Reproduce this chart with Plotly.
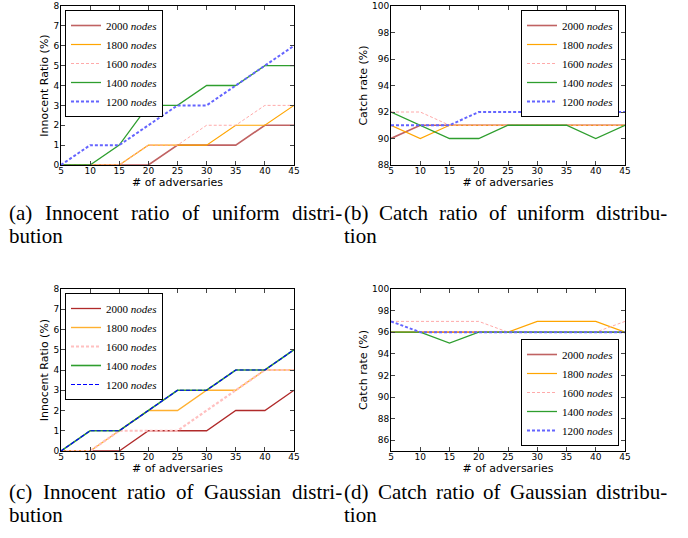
import plotly.graph_objects as go

x_adv = [5, 10, 15, 20, 25, 30, 35, 40, 45]
node_labels = ["2000", "1800", "1600", "1400", "1200"]

# (a) innocent ratio, uniform
inn_uni = {
    "2000": [0, 0, 0, 0, 1, 1, 1, 2, 2],
    "1800": [0, 0, 0, 1, 1, 1, 2, 2, 3],
    "1600": [0, 0, 0, 1, 1, 2, 2, 3, 3],
    "1400": [0, 0, 1, 3, 3, 4, 4, 5, 5],
    "1200": [0, 1, 1, 2, 3, 3, 4, 5, 6],
}
# (b) catch rate, uniform
catch_uni = {
    "2000": [90, 91, 91, 91, 91, 91, 91, 91, 91],
    "1800": [91, 90, 91, 91, 91, 91, 91, 91, 91],
    "1600": [92, 92, 91, 91, 91, 91, 91, 91, 91],
    "1400": [92, 91, 90, 90, 91, 91, 91, 90, 91],
    "1200": [91, 91, 91, 92, 92, 92, 92, 92, 92],
}
# (c) innocent ratio, Gaussian
inn_gau = {
    "2000": [0, 0, 0, 1, 1, 1, 2, 2, 3],
    "1800": [0, 0, 1, 2, 2, 3, 3, 4, 4],
    "1600": [0, 0, 1, 1, 1, 2, 3, 4, 4],
    "1400": [0, 1, 1, 2, 3, 3, 4, 4, 5],
    "1200": [0, 1, 1, 2, 3, 3, 4, 4, 5],
}
# (d) catch rate, Gaussian
catch_gau = {
    "2000": [96, 96, 96, 96, 96, 96, 96, 96, 96],
    "1800": [96, 96, 96, 96, 96, 97, 97, 97, 96],
    "1600": [97, 97, 97, 97, 96, 96, 96, 96, 97],
    "1400": [96, 96, 95, 96, 96, 96, 96, 96, 96],
    "1200": [97, 96, 96, 96, 96, 96, 96, 96, 96],
}

captions = [
    ("(a) Innocent ratio of uniform distri-", "bution"),
    ("(b) Catch ratio of uniform distribu-", "tion"),
    ("(c) Innocent ratio of Gaussian distri-", "bution"),
    ("(d) Catch ratio of Gaussian distribu-", "tion"),
]

style_light = {
    "2000": dict(color="#c06262", width=1.6, dash="solid"),
    "1800": dict(color="#ffa500", width=1.2, dash="solid"),
    "1600": dict(color="#ffaaaa", width=1.0, dash="3px,2px"),
    "1400": dict(color="#2e9e2e", width=1.3, dash="solid"),
    "1200": dict(color="#6464ff", width=2.0, dash="3px,2px"),
}
style_dark = {
    "2000": dict(color="#b02a2a", width=1.3, dash="solid"),
    "1800": dict(color="#ffb030", width=1.4, dash="solid"),
    "1600": dict(color="#ffc0c0", width=2.2, dash="3px,2px"),
    "1400": dict(color="#2e9e2e", width=1.6, dash="solid"),
    "1200": dict(color="#0000ff", width=1.2, dash="4px,2px"),
}

W, H = 688, 538
def px_x(v):
    return v / W
def px_y(v):
    return 1 - v / H

fig = go.Figure()

panels = [
    (inn_uni, style_light, "x", "y", "legend"),
    (catch_uni, style_light, "x2", "y2", "legend2"),
    (inn_gau, style_dark, "x3", "y3", "legend3"),
    (catch_gau, style_light, "x4", "y4", "legend4"),
]
for data, sty, xa, ya, lg in panels:
    for n in node_labels:
        fig.add_trace(go.Scatter(
            x=x_adv, y=data[n], mode="lines",
            name=n + " <i>nodes</i>",
            line=sty[n], xaxis=xa, yaxis=ya, legend=lg, showlegend=True,
        ))

tick_font = dict(family="DejaVu Sans", size=9, color="black")
title_font = dict(family="DejaVu Sans", size=11, color="black")

def xaxis_cfg(dom):
    return dict(domain=dom, range=[5, 45], tickvals=x_adv, ticks="inside", ticklen=4,
                showline=True, mirror="ticks", linecolor="black", linewidth=1,
                showgrid=False, zeroline=False, tickfont=tick_font, automargin=False,
                ticklabeloverflow="allow", ticklabelstandoff=-3,
                title=dict(text="# of adversaries", font=title_font, standoff=0))

def yaxis_cfg(dom, rng, vals, anchor, title):
    return dict(domain=dom, range=rng, tickvals=vals, ticks="inside", ticklen=4,
                showline=True, mirror="ticks", linecolor="black", linewidth=1,
                showgrid=False, zeroline=False, tickfont=tick_font, anchor=anchor,
                automargin=False, ticklabeloverflow="allow", ticklabelstandoff=-1,
                title=dict(text=title, font=title_font, standoff=2))

xl = [px_x(61), px_x(294)]
xr = [px_x(391), px_x(625)]
yt = [px_y(165), px_y(6)]
yb = [px_y(451), px_y(289)]

leg_common = dict(bordercolor="black", borderwidth=1, bgcolor="white",
                  font=dict(family="Liberation Serif", size=11, color="black"),
                  itemwidth=30, tracegroupgap=0)

fig.update_layout(
    width=W, height=H, margin=dict(l=0, r=0, t=0, b=0, autoexpand=False),
    paper_bgcolor="white", plot_bgcolor="white",
    xaxis=dict(xaxis_cfg(xl), anchor="y"),
    yaxis=yaxis_cfg(yt, [0, 8], list(range(0, 9)), "x", "Innocent Ratio (%)"),
    xaxis2=dict(xaxis_cfg(xr), anchor="y2"),
    yaxis2=yaxis_cfg(yt, [88, 100], list(range(88, 101, 2)), "x2", "Catch rate (%)"),
    xaxis3=dict(xaxis_cfg(xl), anchor="y3"),
    yaxis3=yaxis_cfg(yb, [0, 8], list(range(0, 9)), "x3", "Innocent Ratio (%)"),
    xaxis4=dict(xaxis_cfg(xr), anchor="y4"),
    yaxis4=yaxis_cfg(yb, [85, 100], list(range(86, 101, 2)), "x4", "Catch rate (%)"),
    legend=dict(leg_common, x=px_x(65), y=px_y(10), xanchor="left", yanchor="top"),
    legend2=dict(leg_common, x=px_x(619), y=px_y(10), xanchor="right", yanchor="top"),
    legend3=dict(leg_common, x=px_x(65), y=px_y(293), xanchor="left", yanchor="top"),
    legend4=dict(leg_common, x=px_x(619), y=px_y(446), xanchor="right", yanchor="bottom"),
    showlegend=True,
)

# Times metrics (per 1000 em) for justified caption layout
TIMES = {"(": 333, ")": 333, "a": 444, "b": 500, "c": 444, "d": 500, "e": 444,
         "f": 333, "i": 278, "m": 778, "n": 500, "o": 500, "r": 333, "s": 389,
         "t": 278, "u": 500, "I": 333, "C": 667, "G": 722, "h": 500, "-": 333}
CAP_SIZE = 21

def word_w(w):
    return sum(TIMES.get(ch, 500) for ch in w) / 1000 * CAP_SIZE

cap_font = dict(family="Liberation Serif", size=CAP_SIZE, color="black")
cap_pos = [(8, 341, 213), (343, 666, 213), (8, 341, 492), (343, 666, 492)]
for (l1, l2), (x0, x1, cy) in zip(captions, cap_pos):
    words = l1.split(" ")
    widths = [word_w(w) for w in words]
    gap = (x1 - x0 - sum(widths)) / (len(words) - 1)
    cx = x0
    for w, ww in zip(words, widths):
        fig.add_annotation(text=w, x=px_x(cx), y=px_y(cy), xref="paper", yref="paper",
                           xanchor="left", yanchor="middle", showarrow=False, font=cap_font,
                           borderpad=0)
        cx += ww + gap
    fig.add_annotation(text=l2, x=px_x(x0), y=px_y(cy + 23), xref="paper", yref="paper",
                       xanchor="left", yanchor="middle", showarrow=False, font=cap_font,
                       borderpad=0)

fig.write_html("out.html", config={"displayModeBar": False},
               post_script="document.body.style.margin='0';")
